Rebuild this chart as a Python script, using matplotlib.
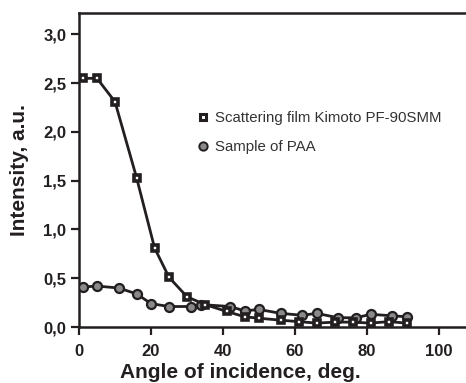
"""Intensity vs angle of incidence"""
import matplotlib
matplotlib.use('Agg')
import matplotlib.pyplot as plt
from matplotlib.lines import Line2D
from matplotlib.ticker import FuncFormatter

INK = '#231f20'

film_angle = [1, 5, 10, 16, 21, 25, 30, 35, 41, 46, 50, 56, 61, 66, 71, 76, 81, 86, 91]
film_int = [2.55, 2.55, 2.31, 1.53, 0.81, 0.51, 0.31, 0.23, 0.16, 0.105, 0.09, 0.07,
            0.055, 0.04, 0.05, 0.05, 0.04, 0.055, 0.04]

paa_angle = [1, 5, 11, 16, 20, 25, 31, 34, 42, 46, 50, 56, 62, 66, 72, 77, 81, 87, 91]
paa_int = [0.41, 0.42, 0.40, 0.34, 0.24, 0.21, 0.21, 0.23, 0.21, 0.165, 0.18, 0.14,
           0.12, 0.14, 0.095, 0.095, 0.13, 0.115, 0.105]

x_ticks = [0, 20, 40, 60, 80, 100]
y_ticks = [0.0, 0.5, 1.0, 1.5, 2.0, 2.5, 3.0]

plt.rcParams['font.family'] = ['Liberation Sans', 'DejaVu Sans']

fig = plt.figure(figsize=(4.66, 3.83), dpi=100)
# axes runs off the right edge like the scanned original
ax = fig.add_axes([79 / 466, 56 / 383, 414 / 466, 314 / 383])

ax.plot(paa_angle, paa_int, color=INK, lw=2.0, marker='o', ms=6.5,
        mfc='#8a8a8a', mec=INK, mew=1.6, zorder=3)
ax.plot(film_angle, film_int, color=INK, lw=2.0, marker='s', ms=4.6,
        mfc='white', mec=INK, mew=2.6, zorder=4)

ax.set_xlim(0, 115)
ax.set_ylim(0, 3.22)
ax.set_xticks(x_ticks)
ax.set_yticks(y_ticks)
ax.yaxis.set_major_formatter(FuncFormatter(lambda v, p: '{:.1f}'.format(v).replace('.', ',')))

for side in ['left', 'bottom', 'top', 'right']:
    ax.spines[side].set_linewidth(1.8)
    ax.spines[side].set_color(INK)

ax.tick_params(direction='out', length=6, width=1.6, color=INK,
               labelsize=12, labelcolor=INK, pad=3)
ax.tick_params(axis='x', pad=6)
for lab in ax.get_xticklabels() + ax.get_yticklabels():
    lab.set_fontweight('bold')

ax.set_xlabel('Angle of incidence, deg.', fontsize=15, fontweight='bold',
              color=INK)
ax.xaxis.set_label_coords(0.39, -0.115)
ax.set_ylabel('Intensity, a.u.', fontsize=15, fontweight='bold',
              color=INK, labelpad=10)

handles = [
    Line2D([], [], ls='none', marker='s', ms=4, mfc='white', mec=INK, mew=2.2),
    Line2D([], [], ls='none', marker='o', ms=6, mfc='#8a8a8a', mec=INK, mew=1.4),
]
ax.legend(handles, ['Scattering film Kimoto PF-90SMM', 'Sample of PAA'],
          loc='upper left', bbox_to_anchor=(197 / 466, 1 - 111 / 383),
          bbox_transform=fig.transFigure, frameon=False, fontsize=10.8,
          handlelength=0.8, handletextpad=0.4, labelspacing=1.0,
          labelcolor='#333333', borderaxespad=0, borderpad=0)

fig.savefig('out.png', dpi=100)
